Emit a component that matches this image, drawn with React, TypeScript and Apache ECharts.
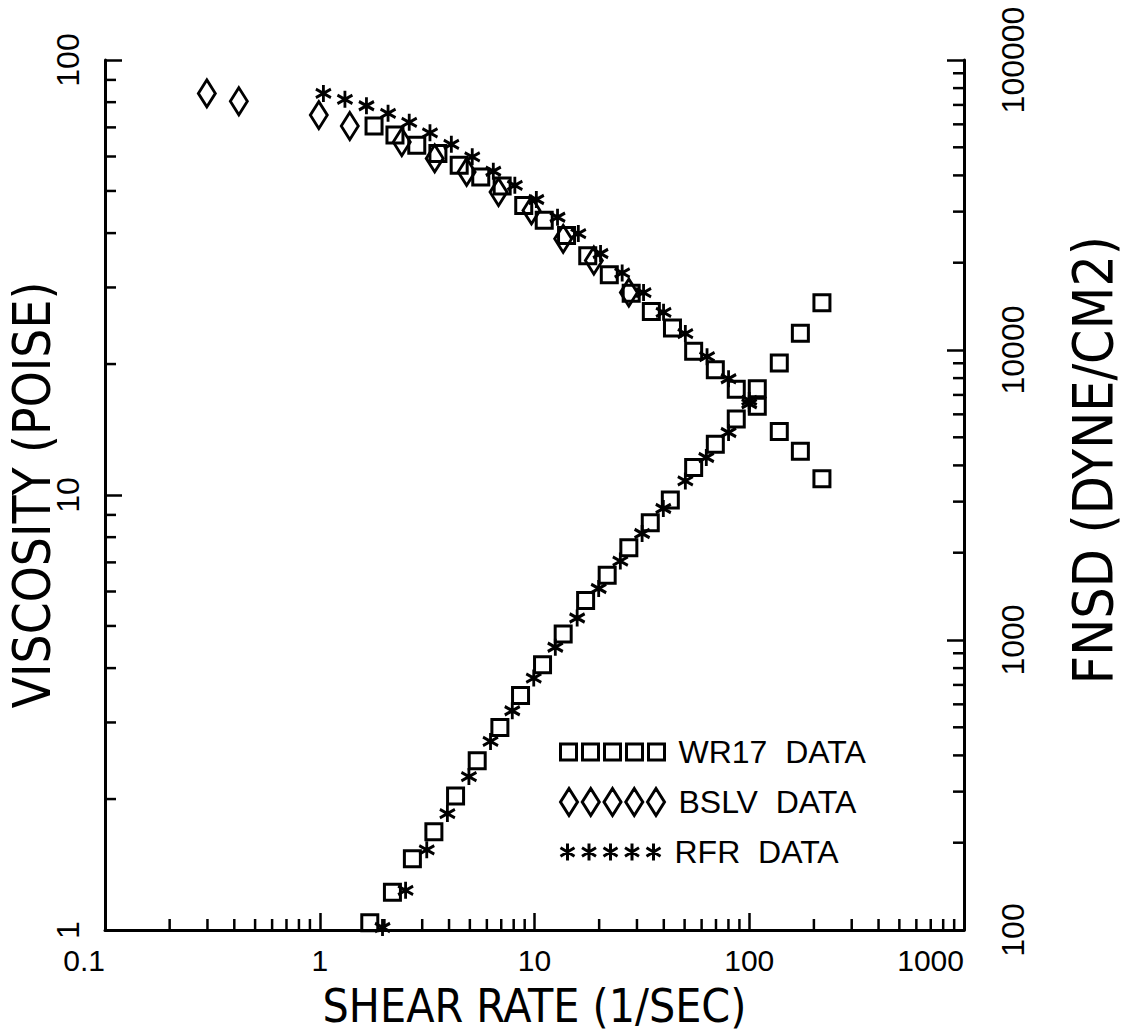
import React, { useEffect, useRef } from "react";
import * as echarts from "echarts";

// WR17 data: viscosity (poise) and first normal stress difference (dyne/cm2) vs shear rate (1/sec)
const WR17_VISC_RATE = [1.79, 2.24, 2.83, 3.55, 4.46, 5.62, 7.07, 8.91, 11.1, 14.1, 17.7, 22.3, 28.2, 35.0, 43.9, 55.1, 69.5, 87.0, 109, 138, 173, 218];
const WR17_VISC = [70.5, 67.2, 63.7, 61.0, 57.3, 53.8, 51.3, 46.3, 42.8, 39.5, 35.5, 32.1, 29.1, 26.4, 24.2, 21.4, 19.4, 17.5, 16.0, 14.0, 12.6, 10.9];
const WR17_FNSD_RATE = [1.71, 2.18, 2.70, 3.40, 4.29, 5.41, 6.90, 8.61, 10.9, 13.6, 17.3, 21.8, 27.5, 34.6, 42.9, 55.1, 69.5, 87.0, 109, 138, 173, 218];
const WR17_FNSD = [106, 135, 176, 218, 290, 383, 499, 644, 822, 1049, 1368, 1673, 2080, 2538, 3040, 3931, 4736, 5777, 7355, 9024, 11420, 14550];

// BSLV data: viscosity only
const BSLV_RATE = [0.298, 0.42, 0.99, 1.38, 2.41, 3.43, 4.83, 6.8, 9.68, 13.6, 18.9, 27.5];
const BSLV_VISC = [83.8, 80.4, 74.7, 70.5, 64.8, 59.4, 55.3, 49.7, 45.1, 38.8, 34.6, 29.2];

// RFR data: viscosity and first normal stress difference
const RFR_VISC_RATE = [1.04, 1.31, 1.65, 2.08, 2.61, 3.26, 4.10, 5.13, 6.43, 8.10, 10.2, 12.8, 16.0, 20.3, 25.6, 32.2, 39.9, 50.4, 63.6, 80.1, 100];
const RFR_VISC = [83.8, 81.2, 78.5, 75.4, 71.9, 68.0, 64.0, 59.9, 55.5, 51.5, 47.8, 43.5, 39.9, 35.9, 32.4, 29.2, 26.3, 23.5, 20.8, 18.5, 16.5];
const RFR_FNSD_RATE = [1.96, 2.51, 3.15, 3.93, 4.95, 6.24, 7.88, 9.92, 12.5, 15.8, 19.9, 25.1, 31.7, 39.8, 50.4, 63.1, 80.1, 100];
const RFR_FNSD = [102, 137, 189, 252, 338, 447, 570, 739, 944, 1191, 1505, 1871, 2329, 2841, 3537, 4258, 5194, 6527];

// Axis tick labels
const X_TICK_LABELS = ["0.1", "1", "10", "100", "1000"];
const VISC_TICK_LABELS = ["1", "10", "100"];
const FNSD_TICK_LABELS = ["100", "1000", "10000", "100000"];

// Decades that receive minor ticks at 2..9
const X_DECADES = [0.1, 1, 10, 100];
const VISC_DECADES = [1, 10];
const FNSD_DECADES = [100, 1000, 10000];
const MINOR_STEPS = [2, 3, 4, 5, 6, 7, 8, 9];

const WR17 = "WR17 DATA";
const BSLV = "BSLV DATA";
const RFR = "RFR DATA";

const TICK_FONT = "'Liberation Sans', Arial, sans-serif";
const TITLE_FONT = "'Liberation Sans Narrow', 'DejaVu Sans Condensed', 'Arial Narrow', sans-serif";
const INK = "#000";
const MINOR_LEN = 11;
const STROKE = 3;

const pairs = (xs: number[], ys: number[]) => xs.map((x, i) => [x, ys[i]]);

// Legend icons: five hollow markers in a row
const SQUARE_ICON =
  "path://M0,0H16V16H0Z M22,0H38V16H22Z M44,0H60V16H44Z M66,0H82V16H66Z M88,0H104V16H88Z";
const diamondAt = (cx: number) => `M${cx},0L${cx + 8.5},13.5L${cx},27L${cx - 8.5},13.5Z`;
const DIAMOND_ICON = "path://" + [8.5, 30.25, 52, 73.75, 95.5].map(diamondAt).join(" ");
const starAt = (cx: number) =>
  `M${cx},0L${cx},17M${cx - 7},4.25L${cx + 7},12.75M${cx - 7},12.75L${cx + 7},4.25`;
const STAR_ICON = "path://" + [7, 28.5, 50, 71.5, 93].map(starAt).join(" ");
const STAR_SYMBOL = "path://M0,-10L0,10M-8.66,-5L8.66,5M-8.66,5L8.66,-5";

const hollow = { color: "rgba(0,0,0,0)", borderColor: INK, borderWidth: STROKE, opacity: 1 };

function minorTickSeries(data: number[][], yAxisIndex: number, dx: number, dy: number) {
  return {
    type: "custom",
    xAxisIndex: 0,
    yAxisIndex,
    silent: true,
    clip: false,
    z: 5,
    data,
    renderItem: (_params: any, api: any) => {
      const p = api.coord([api.value(0), api.value(1)]);
      return {
        type: "line",
        shape: { x1: p[0], y1: p[1], x2: p[0] + dx * MINOR_LEN, y2: p[1] + dy * MINOR_LEN },
        style: { stroke: INK, lineWidth: 2.5 },
      };
    },
  };
}

function scatter(name: string, data: number[][], yAxisIndex: number, symbol: string, symbolSize: any) {
  return {
    type: "scatter",
    name,
    yAxisIndex,
    data,
    symbol,
    symbolSize,
    itemStyle: hollow,
    silent: true,
    clip: false,
    emphasis: { disabled: true },
  };
}

function legendRow(name: string, top: number, icon: string, w: number, h: number) {
  return {
    data: [name],
    left: 559,
    top,
    padding: 0,
    icon,
    itemWidth: w,
    itemHeight: h,
    selectedMode: false,
    itemStyle: { color: "rgba(0,0,0,0)", borderColor: INK, borderWidth: STROKE, opacity: 1 },
    formatter: (n: string) => n.replace(" ", "\u00a0\u00a0"),
    textStyle: { color: INK, fontSize: 32, fontFamily: TICK_FONT, padding: [0, 0, 0, 9] },
  };
}

export default function App() {
  const ref = useRef<HTMLDivElement>(null);

  useEffect(() => {
    if (!ref.current) return;
    const chart = echarts.init(ref.current, undefined, { renderer: "svg" });

    const xMinor = X_DECADES.flatMap((d) => MINOR_STEPS.map((m) => [d * m, 1]));
    const viscMinor = VISC_DECADES.flatMap((d) => MINOR_STEPS.map((m) => [0.1, d * m]));
    const fnsdMinor = FNSD_DECADES.flatMap((d) => MINOR_STEPS.map((m) => [1000, d * m]));

    const axisLine = { show: true, onZero: false, lineStyle: { color: INK, width: 3 } };
    const axisTick = { show: true, inside: true, length: 17, lineStyle: { color: INK, width: 2.5 } };

    chart.setOption({
      animation: false,
      backgroundColor: "#fff",
      grid: { left: 105, top: 60, width: 859, height: 870, show: false, outerBoundsMode: "none", containLabel: false },
      legend: [
        legendRow(WR17, 736, SQUARE_ICON, 104, 16),
        legendRow(BSLV, 786, DIAMOND_ICON, 104, 27),
        legendRow(RFR, 836, STAR_ICON, 100, 17),
      ],
      xAxis: {
        type: "log",
        logBase: 10,
        min: 0.1,
        max: 1000,
        axisLine,
        axisTick,
        splitLine: { show: false },
        axisLabel: {
          margin: 15,
          color: INK,
          fontSize: 30,
          fontFamily: TICK_FONT,
          alignMinLabel: "right",
          alignMaxLabel: "right",
          formatter: (_v: number, i: number) => X_TICK_LABELS[i] ?? "",
        },
        name: "SHEAR RATE (1/SEC)",
        nameLocation: "middle",
        nameMoveOverlap: false,
        nameGap: 53,
        nameTextStyle: { color: INK, fontSize: 46, fontFamily: TITLE_FONT },
      },
      yAxis: [
        {
          type: "log",
          logBase: 10,
          min: 1,
          max: 100,
          position: "left",
          axisLine,
          axisTick,
          splitLine: { show: false },
          axisLabel: {
            rotate: 90,
            margin: 21,
            color: INK,
            fontSize: 32,
            fontFamily: TICK_FONT,
            formatter: (_v: number, i: number) => VISC_TICK_LABELS[i] ?? "",
          },
          name: "VISCOSITY (POISE)",
          nameLocation: "middle",
          nameMoveOverlap: false,
          nameGap: 47,
          nameTextStyle: { color: INK, fontSize: 51, fontFamily: TITLE_FONT },
        },
        {
          type: "log",
          logBase: 10,
          min: 100,
          max: 100000,
          position: "right",
          axisLine,
          axisTick,
          splitLine: { show: false },
          axisLabel: {
            rotate: 90,
            margin: 33,
            color: INK,
            fontSize: 32,
            fontFamily: TICK_FONT,
            formatter: (_v: number, i: number) => FNSD_TICK_LABELS[i] ?? "",
          },
          name: "FNSD (DYNE/CM2)",
          nameLocation: "middle",
          nameMoveOverlap: false,
          nameGap: 101,
          nameTextStyle: { color: INK, fontSize: 55, fontFamily: TITLE_FONT, padding: [0, 0, 0, 70] },
        },
      ],
      series: [
        scatter(WR17, pairs(WR17_VISC_RATE, WR17_VISC), 0, "rect", 16),
        scatter(WR17, pairs(WR17_FNSD_RATE, WR17_FNSD), 1, "rect", 16),
        scatter(BSLV, pairs(BSLV_RATE, BSLV_VISC), 0, "diamond", [17, 27]),
        scatter(RFR, pairs(RFR_VISC_RATE, RFR_VISC), 0, STAR_SYMBOL, [15, 17]),
        scatter(RFR, pairs(RFR_FNSD_RATE, RFR_FNSD), 1, STAR_SYMBOL, [15, 17]),
        minorTickSeries(xMinor, 0, 0, -1),
        minorTickSeries(viscMinor, 0, 1, 0),
        minorTickSeries(fnsdMinor, 1, -1, 0),
      ],
    });

    return () => chart.dispose();
  }, []);

  return (
    <div
      ref={ref}
      style={{ position: "fixed", left: 0, top: 0, width: 1131, height: 1034, background: "#fff" }}
    />
  );
}
